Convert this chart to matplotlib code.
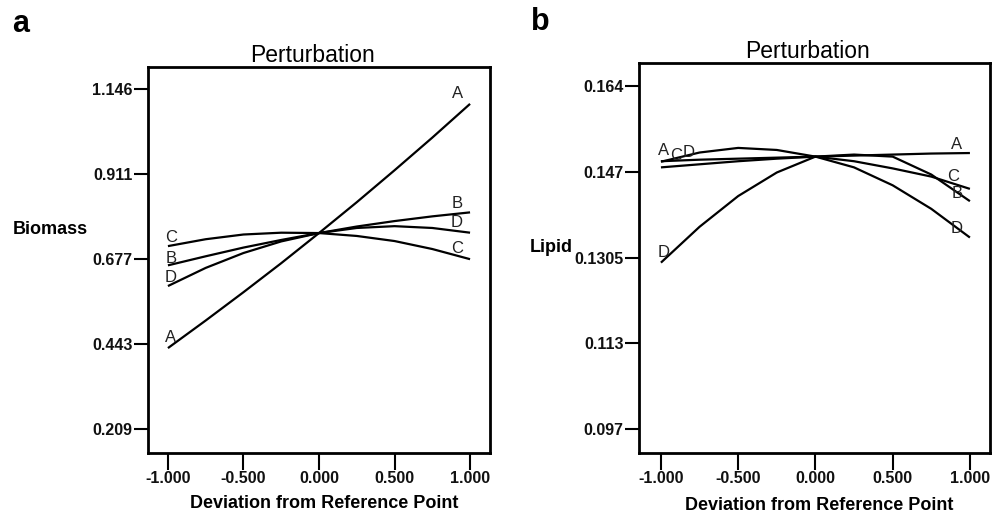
import numpy as np
import matplotlib
matplotlib.use("Agg")
import matplotlib.pyplot as plt

# ---------------- data ----------------
dev = [-1.0, -0.75, -0.5, -0.25, 0.0, 0.25, 0.5, 0.75, 1.0]

biomass_A = [0.432, 0.508, 0.586, 0.666, 0.749, 0.834, 0.922, 1.012, 1.105]
biomass_B = [0.660, 0.685, 0.709, 0.730, 0.749, 0.767, 0.782, 0.795, 0.806]
biomass_C = [0.713, 0.732, 0.745, 0.750, 0.749, 0.741, 0.727, 0.705, 0.677]
biomass_D = [0.603, 0.653, 0.694, 0.726, 0.749, 0.763, 0.768, 0.763, 0.750]

lipid_A = [0.1493, 0.1496, 0.1498, 0.1500, 0.1502, 0.1504, 0.1506, 0.1508, 0.1509]
lipid_B = [0.1481, 0.1487, 0.1493, 0.1498, 0.1502, 0.1506, 0.1502, 0.1467, 0.1415]
lipid_C = [0.1492, 0.1510, 0.1519, 0.1515, 0.1502, 0.1493, 0.1479, 0.1463, 0.1439]
lipid_D = [0.1295, 0.1365, 0.1425, 0.1471, 0.1502, 0.1481, 0.1446, 0.1400, 0.1344]

x_ticks = [-1.0, -0.5, 0.0, 0.5, 1.0]
x_ticklabels = ["-1.000", "-0.500", "0.000", "0.500", "1.000"]
biomass_ticklabels = ["0.209", "0.443", "0.677", "0.911", "1.146"]
lipid_ticklabels = ["0.097", "0.113", "0.1305", "0.147", "0.164"]

# left / right end labels (text shown at each end of each curve)
biomass_series = {"A": biomass_A, "B": biomass_B, "C": biomass_C, "D": biomass_D}
biomass_left_text = {"A": "A", "B": "B", "C": "C", "D": "D"}
biomass_right_text = {"A": "A", "B": "B", "C": "C", "D": "D"}
lipid_series = {"A": lipid_A, "B": lipid_B, "C": lipid_C, "D": lipid_D}
lipid_left_text = {"A": "A", "B": "D", "C": "C", "D": "D"}
lipid_right_text = {"A": "A", "B": "B", "C": "C", "D": "D"}

# ---------------- style ----------------
TICKFONT = ["Liberation Sans Narrow", "Liberation Sans", "DejaVu Sans"]
LABFONT = ["Liberation Sans", "DejaVu Sans"]
plt.rcParams["font.family"] = LABFONT

fig = plt.figure(figsize=(10.03, 5.14), dpi=100)


def px(x0, y0, x1, y1):
    W, H = 1003.0, 514.0
    return [x0 / W, 1 - y1 / H, (x1 - x0) / W, (y1 - y0) / H]


def setup(ax, ylabels, ylim, xlim):
    yt = np.linspace(float(ylabels[0]), float(ylabels[-1]), len(ylabels))
    ax.set_xlim(*xlim)
    ax.set_ylim(*ylim)
    ax.set_xticks(x_ticks)
    ax.set_xticklabels(x_ticklabels)
    ax.set_yticks(yt)
    ax.set_yticklabels(ylabels)
    for sp in ax.spines.values():
        sp.set_linewidth(2.0)
        sp.set_color("black")
    ax.tick_params(axis="y", direction="out", length=10, width=1.5, pad=1)
    ax.tick_params(axis="x", direction="out", length=12, width=1.5, pad=1)
    for t in ax.get_xticklabels() + ax.get_yticklabels():
        t.set_family(TICKFONT)
        t.set_fontweight("bold")
        t.set_fontsize(11.5)
        t.set_color("#111111")


def draw(ax, series, ltext, rtext, loffs, roffs):
    for k, v in series.items():
        ax.plot(dev, v, color="black", lw=1.6, solid_capstyle="butt",
                solid_joinstyle="round")
        ax.annotate(ltext[k], xy=(dev[0], v[0]), xytext=loffs[k],
                    textcoords="offset pixels", ha="center", va="center",
                    fontsize=12, color="#222222", family=LABFONT)
        ax.annotate(rtext[k], xy=(dev[-1], v[-1]), xytext=roffs[k],
                    textcoords="offset pixels", ha="center", va="center",
                    fontsize=12, color="#222222", family=LABFONT)


# ---- panel a ----
axa = fig.add_axes(px(148, 67, 490, 453))
setup(axa, biomass_ticklabels, (0.1429, 1.2066), (-1.132, 1.132))
draw(axa, biomass_series, biomass_left_text, biomass_right_text,
     {"A": (3, 11), "B": (3, 7), "C": (3, 9), "D": (3, 9)},
     {"A": (-13, 10), "B": (-13, 9), "C": (-13, 11), "D": (-13, 10)})
axa.set_title("Perturbation", fontsize=16.5, pad=1, x=0.48, family=LABFONT)

# ---- panel b ----
axb = fig.add_axes(px(639, 63, 990, 453))
setup(axb, lipid_ticklabels, (0.09233, 0.16848), (-1.142, 1.13))
draw(axb, lipid_series, lipid_left_text, lipid_right_text,
     {"A": (3, 11), "B": (28, 15), "C": (15, 6), "D": (3, 10)},
     {"A": (-13, 9), "B": (-13, 8), "C": (-17, 12), "D": (-13, 9)})
axb.set_title("Perturbation", fontsize=16.5, pad=1, x=0.48, family=LABFONT)

# ---- axis labels & panel letters ----
fig.text(13 / 1003, 1 - 229 / 514, "Biomass", fontsize=13, fontweight="bold",
         ha="left", va="center", family=LABFONT)
fig.text(530 / 1003, 1 - 247 / 514, "Lipid", fontsize=13, fontweight="bold",
         ha="left", va="center", family=LABFONT)
fig.text(324 / 1003, 1 - 503 / 514, "Deviation from Reference Point", fontsize=13,
         fontweight="bold", ha="center", va="center", family=LABFONT)
fig.text(819 / 1003, 1 - 505 / 514, "Deviation from Reference Point", fontsize=13,
         fontweight="bold", ha="center", va="center", family=LABFONT)
fig.text(12 / 1003, 1 - 24 / 514, "a", fontsize=22, fontweight="bold",
         ha="left", va="center", family=LABFONT)
fig.text(531 / 1003, 1 - 22 / 514, "b", fontsize=22, fontweight="bold",
         ha="left", va="center", family=LABFONT)

fig.savefig("out.png", dpi=100)
